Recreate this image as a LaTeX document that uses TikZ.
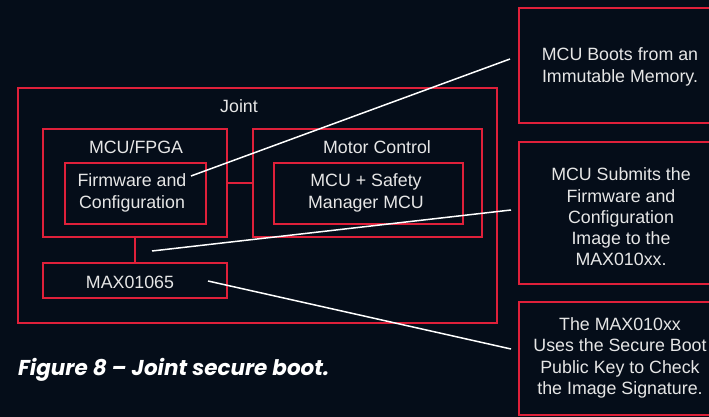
\documentclass[tikz,border=0pt]{standalone}
\usepackage{fontspec}
\setmainfont{Liberation Sans}
\newfontfamily\capfont{Poppins}
\definecolor{bg}{HTML}{050D19}
\definecolor{adired}{HTML}{E0203A}
\definecolor{txt}{HTML}{E6E6E6}
\begin{document}
\begin{tikzpicture}[x=1pt,y=-1pt,
  box/.style={draw=adired, line width=1.8pt, anchor=north west, inner sep=0pt, outer sep=0pt},
  lbl/.style={text=txt, font=\fontsize{17.8}{21.3}\selectfont, align=center, inner sep=0pt},
  wire/.style={draw=white, line width=1.5pt},
  link/.style={draw=adired, line width=1.8pt}]
\fill[bg] (0,0) rectangle (709,417);
\useasboundingbox (0,0) rectangle (709,417);
% boxes
\node[box, minimum width=479pt, minimum height=235pt] (joint) at (18,88) {};
\node[box, minimum width=184pt, minimum height=108pt] (mcu) at (43,129) {};
\node[box, minimum width=141pt, minimum height=61pt] (fw) at (65,163) {};
\node[box, minimum width=229pt, minimum height=108pt] (motor) at (253,129) {};
\node[box, minimum width=189pt, minimum height=61pt] (safety) at (274,163) {};
\node[box, minimum width=184pt, minimum height=35pt] (max) at (43,263) {};
\node[box, minimum width=205pt, minimum height=115pt] (c1) at (519,8) {};
\node[box, minimum width=205pt, minimum height=142pt] (c2) at (519,142) {};
\node[box, minimum width=205pt, minimum height=113pt] (c3) at (519,302) {};
% links
\draw[link] (mcu.east) -- (motor.west);
\draw[link] (mcu.south) -- (max.north);
% labels
\node[lbl] (tjoint) at (239,106) {Joint};
\node[lbl] (tmcu) at (136,147) {MCU/FPGA};
\node[lbl] (tfw) at (132,193) {Firmware and\\Configuration};
\node[lbl] (tmotor) at (377,147) {Motor Control};
\node[lbl] (tsafety) at (366,193) {MCU + Safety\\Manager MCU};
\node[lbl] (tmax) at (130,282) {MAX01065};
\node[lbl] (tc1) at (620,67) {MCU Boots from an\\Immutable Memory.};
\node[lbl] (tc2) at (621,217) {MCU Submits the\\Firmware and\\Configuration\\Image to the\\MAX010xx.};
\node[lbl] (tc3) at (620,358) {The MAX010xx\\Uses the Secure Boot\\Public Key to Check\\the Image Signature.};
% callout wires
\coordinate (a1) at (191,176);
\coordinate (b1) at (510,59);
\coordinate (a2) at (152,251);
\coordinate (b2) at (511,210);
\coordinate (a3) at (208,281);
\coordinate (b3) at (511,349);
\draw[wire] (a1) -- (b1);
\draw[wire] (a2) -- (b2);
\draw[wire] (a3) -- (b3);
% caption
\node[anchor=west, text=white, inner sep=0pt, font=\capfont\bfseries\itshape\fontsize{21.5}{25}\selectfont] (cap) at (18,370) {Figure 8 – Joint secure boot.};
\end{tikzpicture}
\end{document}
